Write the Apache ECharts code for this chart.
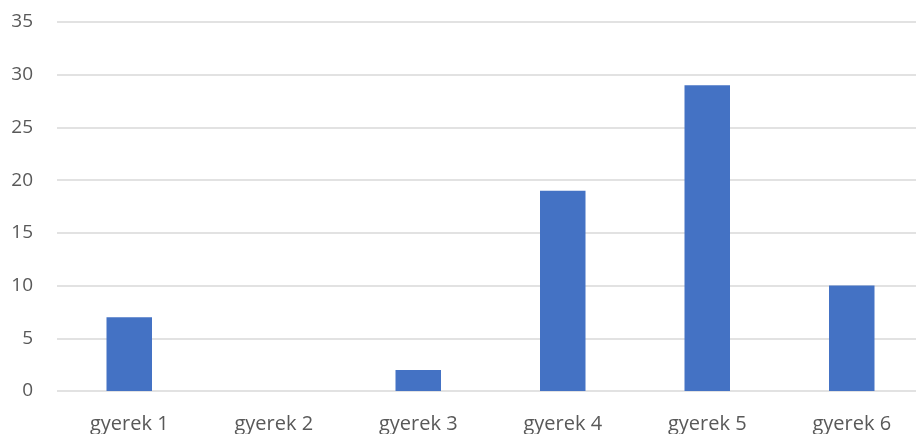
<!DOCTYPE html>
<html><head><meta charset="utf-8">
<script src="https://cdn.jsdelivr.net/npm/echarts@6/dist/echarts.min.js"></script>
<style>html,body{margin:0;padding:0;background:#fff;overflow:hidden;width:916px;height:434px}#c{width:924px;height:434px}</style>
</head><body><div id="c"></div>
<script>
const categories = ['gyerek 1','gyerek 2','gyerek 3','gyerek 4','gyerek 5','gyerek 6'];
const values = [7, 0, 2, 19, 29, 10];
const yTicks = [0, 5, 10, 15, 20, 25, 30, 35];

const chart = echarts.init(document.getElementById('c'), null, {renderer:'canvas'});
chart.setOption({
  animation:false,
  grid:{left:57, top:22, right:0, bottom:42, containLabel:false},
  xAxis:{type:'category', data:categories,
    axisLine:{show:false}, axisTick:{show:false},
    axisLabel:{color:'#595959', fontFamily:'Open Sans', fontSize:20, margin:23}},
  yAxis:{type:'value', min:yTicks[0], max:yTicks[yTicks.length-1], interval:5,
    axisLine:{show:false}, axisTick:{show:false},
    axisLabel:{color:'#595959', fontFamily:'Open Sans', fontSize:19, margin:24},
    splitLine:{lineStyle:{color:'#D9D9D9', width:1.5}}},
  series:[{type:'bar', data:values, barWidth:45.5, itemStyle:{color:'#4472C4'}}]
});
</script></body></html>
